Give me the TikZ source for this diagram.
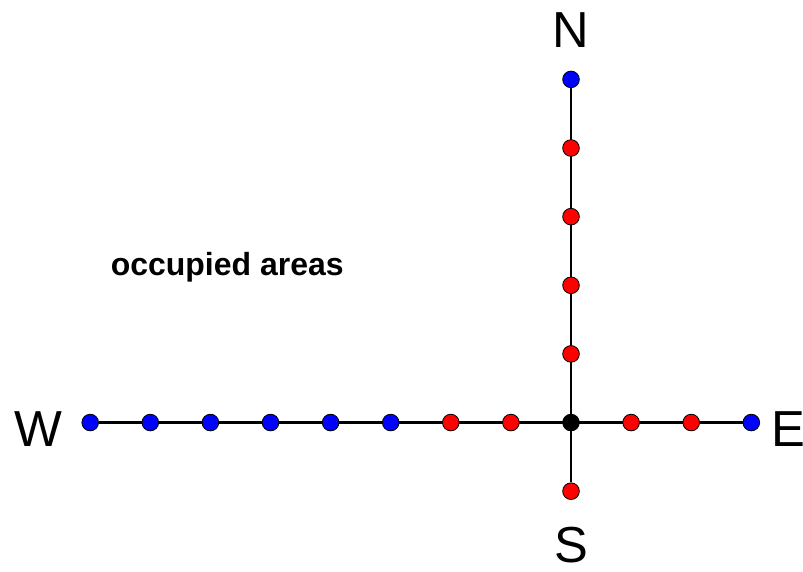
\documentclass[tikz,border=0pt]{standalone}
\usepackage{fontspec}
\setmainfont{Liberation Sans}
\usetikzlibrary{positioning, backgrounds}

\begin{document}
\begin{tikzpicture}[
    x=45.1pt, y=51.5pt,
    % dots on the roads
    free_dot/.style={circle, draw=black, line width=0.6pt, fill=blue, inner sep=0pt, minimum size=12.5pt},
    busy_dot/.style={free_dot, fill=red},
    cross_dot/.style={free_dot, fill=black},
    road/.style={line width=2.2pt},
    compass/.style={font=\fontsize{38}{40}\selectfont}
]
    \useasboundingbox (-9.501, -2.169) rectangle (3.860, 6.157);

    % --- crossing ---
    \node [cross_dot] (c) at (0,0) {};

    % --- west-east road ---
    \foreach \i in {-8,...,-3}
        \node [free_dot] (h\i) at (\i,0) {};
    \foreach \i in {-2,-1,1,2}
        \node [busy_dot] (h\i) at (\i,0) {};
    \node [free_dot] (h3) at (3,0) {};

    % --- south-north road ---
    \node [busy_dot] (v-1) at (0,-1) {};
    \foreach \i in {1,...,4}
        \node [busy_dot] (v\i) at (0,\i) {};
    \node [free_dot] (v5) at (0,5) {};

    \begin{pgfonlayer}{background}
        \draw [road] (h-8) -- (h3);
        \draw [road] (v-1) -- (v5);
    \end{pgfonlayer}

    % --- labels ---
    \node [compass] (north) at (0, 5.72) {N};
    \node [compass] (south) at (0, -1.78) {S};
    \node [compass] (west) at (-8.87, -0.10) {W};
    \node [compass] (east) at (3.61, -0.10) {E};
    \node [font=\fontsize{24}{28}\selectfont\bfseries] (occ) at (-5.72, 2.27) {occupied areas};

\end{tikzpicture}
\end{document}
